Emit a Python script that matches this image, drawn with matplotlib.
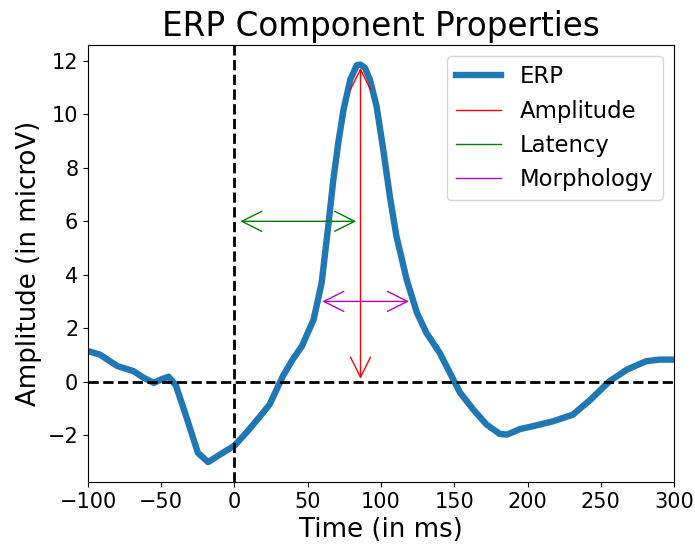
import numpy as np
import matplotlib.pyplot as plt
from matplotlib.lines import Line2D

# ERP waveform (time in ms, amplitude in microV)
times = [-100, -92, -80, -69, -62, -55, -50, -45, -40, -33, -25, -18, -10, 0,
         8, 16, 24, 33, 40, 46, 54, 59.5, 64, 67.5, 71, 74.5, 79, 83.5, 86,
         89, 92.5, 97, 101.5, 106, 110.5, 117.5, 124.5, 131, 140, 147, 154,
         163, 172, 181, 186, 195, 204, 217.5, 231, 243, 256, 268, 281, 290, 300]
erp = [1.14, 1.01, 0.58, 0.39, 0.14, -0.05, 0.08, 0.18, -0.15, -1.30, -2.67,
       -3.02, -2.74, -2.40, -1.92, -1.40, -0.86, 0.20, 0.85, 1.32, 2.32, 3.70,
       5.82, 7.57, 9.0, 10.2, 11.3, 11.85, 11.87, 11.75, 11.3, 10.3, 8.7, 6.95,
       5.45, 3.82, 2.58, 1.82, 1.08, 0.33, -0.42, -1.05, -1.61, -1.96, -1.99,
       -1.78, -1.67, -1.49, -1.24, -0.68, 0.01, 0.45, 0.76, 0.82, 0.82]

# annotation arrows: (start, end) pairs
amp_x, amp_y = 86, (0, 11.85)
lat_y, lat_x = 6, (2, 85)
morph_y, morph_x = 3, (58, 121)

fig = plt.figure(figsize=(6.95, 5.47), dpi=100)
ax = fig.add_axes([0.1266, 0.1188, 0.8432, 0.7995])

ax.plot(times, erp, color="#1f77b4", lw=4.6)
ax.axvline(0, color="k", ls="--", lw=2)
ax.axhline(0, color="k", ls="--", lw=2)

arrow = dict(arrowstyle="<->", mutation_scale=36)
ax.annotate("", xy=(amp_x, amp_y[1]), xytext=(amp_x, amp_y[0]),
            arrowprops=dict(arrow, color="r"))
ax.annotate("", xy=(lat_x[0], lat_y), xytext=(lat_x[1], lat_y),
            arrowprops=dict(arrow, color="g"))
ax.annotate("", xy=(morph_x[0], morph_y), xytext=(morph_x[1], morph_y),
            arrowprops=dict(arrow, color="m"))

ax.set_xlim(-100, 300)
ax.set_title("ERP Component Properties", fontsize=23.5)
ax.set_xlabel("Time (in ms)", fontsize=18.7)
ax.set_ylabel("Amplitude (in microV)", fontsize=18.7)
ax.tick_params(labelsize=15)

handles = [Line2D([0], [0], color="#1f77b4", lw=4.6),
           Line2D([0], [0], color="r", lw=1),
           Line2D([0], [0], color="g", lw=1),
           Line2D([0], [0], color="m", lw=1)]
ax.legend(handles, ["ERP", "Amplitude", "Latency", "Morphology"],
          loc="upper right", fontsize=16.4)

fig.savefig("out.png", dpi=100)
